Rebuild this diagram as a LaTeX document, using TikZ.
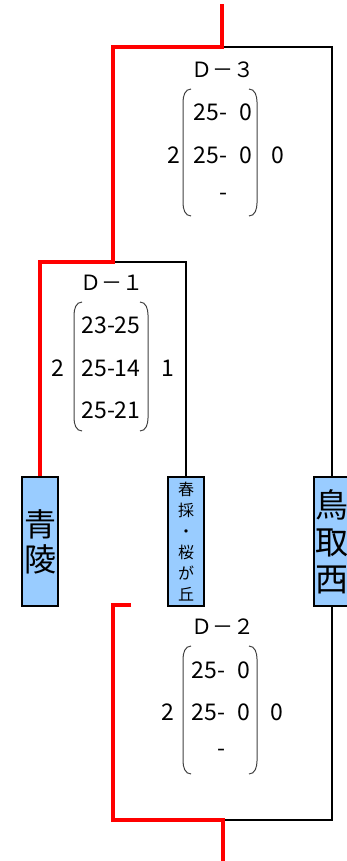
\documentclass[tikz,border=0pt]{standalone}
\usepackage{fontspec}
\setmainfont{Noto Sans CJK JP}
\usetikzlibrary{positioning}
\definecolor{teamblue}{HTML}{99CCFF}
\tikzset{
  team/.style={draw=black,line width=2.5pt,fill=teamblue,minimum width=36pt,minimum height=129pt,inner sep=0pt,align=center},
  win/.style={draw=red,line width=4.5pt},
  lose/.style={draw=black,line width=2pt},
  score/.style={font=\fontsize{23}{23}\selectfont,inner sep=0pt},
  title/.style={font=\fontsize{21}{21}\selectfont,inner sep=0pt},
  paren/.style={draw=black!75,line width=1pt},
}

\begin{document}
\begin{tikzpicture}[x=1pt,y=-1pt]
    \useasboundingbox (0,0) rectangle (347,861);
    % teams
    \node[team,font=\fontsize{32}{35}\selectfont] (seiryo) at (40,541.5) {青\\陵};
    \node[team,font=\fontsize{16}{21}\selectfont] (harutori) at (186,541.5) {春\\採\\・\\桜\\が\\丘};
    \node[team,font=\fontsize{33}{37}\selectfont] (tottori) at (332,541.5) {鳥\\取\\西};
    % bracket corners
    \coordinate (top) at (222,4);
    \coordinate (d3) at (222,47);
    \coordinate (d1) at (113,262);
    \coordinate (stub) at (131,605);
    \coordinate (d2l) at (113,820);
    \coordinate (d2) at (223,820);
    \coordinate (bottom) at (223,861);
    % losers
    \draw[lose] (d3) -| (tottori.north);
    \draw[lose] (d1) -| (harutori.north);
    \draw[lose] (tottori.south) |- (d2);
    % winners
    \draw[win] (seiryo.north) |- (d1) |- (d3) -- (top);
    \draw[win] (stub) -| (d2l) -- (d2) -- (bottom);
    % D-3
    \node[title] (d3title) at (223,70) {Ｄ－３};
    \foreach \y/\s in {112/25-\phantom{2}0, 155/25-\phantom{2}0, 197/-}
    	\node[score] at (223,\y) {\s};
    \draw[paren] (191,89) to[out=180,in=90] (183,102) -- (183,203) to[out=-90,in=180] (191,216);
    \draw[paren] (249,89) to[out=0,in=90] (257,102) -- (257,203) to[out=-90,in=0] (249,216);
    \node[score] (d3win) at (174,155) {2};
    \node[score] (d3lose) at (278,155) {0};
    % D-1
    \node[title] (d1title) at (112,283) {Ｄ－１};
    \foreach \y/\s in {325/23-25, 368/25-14, 410/25-21}
    	\node[score] at (111,\y) {\s};
    \draw[paren] (82,302) to[out=180,in=90] (74,315) -- (74,418) to[out=-90,in=180] (82,431);
    \draw[paren] (140,302) to[out=0,in=90] (148,315) -- (148,418) to[out=-90,in=0] (140,431);
    \node[score] (d1win) at (58,368) {2};
    \node[score] (d1lose) at (168,368) {1};
    % D-2
    \node[title] (d2title) at (223,627) {Ｄ－２};
    \foreach \y/\s in {670/25-\phantom{2}0, 712/25-\phantom{2}0, 753/-}
    	\node[score] at (221,\y) {\s};
    \draw[paren] (191,646) to[out=180,in=90] (183,659) -- (183,761) to[out=-90,in=180] (191,774);
    \draw[paren] (249,646) to[out=0,in=90] (257,659) -- (257,761) to[out=-90,in=0] (249,774);
    \node[score] (d2win) at (168,712) {2};
    \node[score] (d2lose) at (277,712) {0};
\end{tikzpicture}
\end{document}
